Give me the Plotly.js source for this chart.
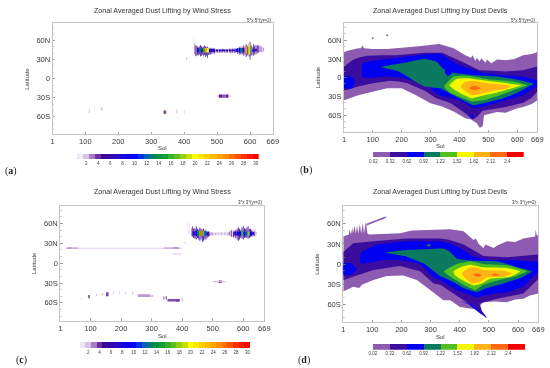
<!DOCTYPE html>
<html><head><meta charset="utf-8">
<script src="https://cdn.plot.ly/plotly-3.0.1.min.js"></script>
<style>html,body{margin:0;padding:0;background:#fff}#c{width:550px;height:368px;filter:blur(0.35px)}</style></head>
<body><div id="c"></div>
<script>
// tick labels
const solTicks=[1,100,200,300,400,500,600,669];
const latTicks=[-60,-30,0,30,60];
const latLabels=['60S','30S','0','30N','60N'];
const windLevels=[2,4,6,8,10,12,14,16,18,20,22,24,26,28,30];
const devilLabels=['0.02','0.32','0.62','0.92','1.22','1.52','1.82','2.12','2.4'];
const devilColors=['#ffffff','#8d5bb0','#3b0d9e','#0000f0','#0b7a5e','#50bf20','#f6f600','#fdb414','#ff6a10','#f50000'];
const windStops=[[0,'#ffffff'],[1,'#f1e8f7'],[2,'#d8c0e6'],[3,'#a67ec8'],[4,'#6a2ea5'],[5,'#3c0a90'],[7,'#2a0ac4'],[10,'#0000ff'],[12,'#0060c0'],[13,'#008060'],[15,'#10a030'],[17,'#60c020'],[19,'#c8e000'],[20,'#ffff00'],[22,'#ffd000'],[25,'#ff9000'],[28,'#ff3000'],[30,'#ff0000']];

// panel (a) wind stress 5x5
const aHaloSol=[450,478,505,530,555,585,622];
const aHaloWidth=[40,22,30,22,30,32,42];
const aHaloLow=[38,40,41,41,41,38,41];
const aHaloHigh=[51,49,47,47,48,51,50];
const aHaloVal=[1.6,1.5,1.2,1.2,1.3,1.6,1.3];
const aStreakSol=[431,435,438,441,444,447,450,453,456,459,462,465,468,471,474,477,480,484,488,492,497,502,507,512,517,522,527,532,537,542,547,552,557,562,567,572,577,581,585,588,591,594,597,600,603,606,610,614,618,622,626,630,635,640];
const aStreakLow=[39,35,36,37,36,38,35,36,38,35,37,34,36,33,37,38,38,39,39,40,41,41,41,41,41,41,41,41,41,40,41,40,41,39,38,38,39,36,38,34,36,37,35,30,36,37,36,38,38,40,41,42,42,43];
const aStreakHigh=[55,53,52,50,49,50,53,51,49,50,52,50,49,50,48,47,47,47,47,47,46,46,46,46,47,46,46,46,47,46,47,47,47,48,50,49,49,52,49,54,52,50,55,58,52,50,54,52,53,53,52,52,50,48];
const aStreakVal=[3,4,4,5,4,5,6,5,5,4,6,5,5,6,5,4,5,5,4,5,4,5,5,5,5,4,5,5,4,5,5,4,5,5,6,5,5,6,5,6,6,5,6,6,6,5,5,5,5,5,4,4,3,3];
const aCoreSol=[442,448,454,460,466,472,478,484,490,500,510,520,530,540,550,560,568,574,580,588,597,603,610,618];
const aCoreWidth=[5,5,5,6,6,6,5,5,8,8,8,8,8,8,8,8,6,6,5,5,4,4,6,6];
const aCoreLow=[41,41,42,41,41,41,42,42,42,43,43,43,43,43,43,42,41,41,41,39,37,40,42,43];
const aCoreHigh=[48,48,47,48,48,48,47,47,47,46,46,46,46,46,46,47,48,48,48,50,54,52,47,47];
const aCoreVal=[9,13,7,16,24,20,10,8,7,6,7,6,7,6,7,8,10,13,8,24,20,17,8,6];
const aSpotSol=[408,430,112,114,128,150,340,344,378,400,510,520,530,503,538,430,434];
const aSpotWidth=[2,2,3,2,1.5,3,5,4,2,2,10,10,9,6,8,2,1.5];
const aSpotLow=[30,50,-54,-50,-49,-50,-55,-55,-55,-55,-30,-30,-30,-29,-29,57,54];
const aSpotHigh=[33,58,-49,-47,-45,-45,-50,-50,-49,-49,-25,-25,-25,-26,-26,65,60];
const aSpotVal=[3.5,1.5,2,2,1.5,2.5,4,3.5,2.5,2,4.5,3.5,4.5,2,2,1,2];

// panel (c) wind stress 3x3
const cHaloSol=[455,480,520,575,615];
const cHaloWidth=[50,24,70,40,55];
const cHaloLow=[39,41,42,40,40];
const cHaloHigh=[52,49,47,50,51];
const cHaloVal=[1.6,1.5,1.2,1.5,1.5];
const cStreakSol=[422,430,434,438,442,446,450,454,458,462,466,470,474,478,482,486,490,495,500,510,520,530,540,550,556,562,568,574,580,584,588,592,596,600,604,608,612,616,620,624,628,632,636,642];
const cStreakLow=[44,41,40,38,37,36,38,36,34,36,32,34,36,36,38,40,41,42,42,43,43,43,43,42,42,40,39,38,36,34,36,38,37,36,38,39,38,37,38,40,40,41,41,43];
const cStreakHigh=[50,53,56,53,52,56,52,50,54,52,50,52,49,49,48,48,47,47,46,46,46,46,46,47,48,50,48,50,52,54,52,50,54,56,53,52,54,56,52,52,50,48,48,47];
const cStreakVal=[2,3,4,5,5,5,6,6,6,6,6,6,6,5,5,5,4,3,3,3,2.5,3,3,3,4,4,5,5,5,5,5,5,6,6,6,5,5,5,5,5,4,4,4,3];
const cCoreSol=[438,446,452,458,464,470,476,483,574,582,590,597,604,611,618,625,632];
const cCoreWidth=[8,6,6,6,6,6,6,8,8,8,7,7,7,7,7,7,8];
const cCoreLow=[42,41,41,41,41,41,41,42,42,42,42,41,42,42,42,42,43];
const cCoreHigh=[48,49,49,49,49,49,49,47,48,48,48,49,47,48,48,48,47];
const cCoreVal=[7,10,13,17,26,17,12,7,7,8,10,16,10,12,18,10,7];
const cSpotSol=[208,45,30,365,380,384,410,95,120,140,155,175,195,215,238,275,300,340,348,372,385,400,525,515,535,30,70,418,424,408];
const cSpotWidth=[385,30,14,50,20,32,8,6,4,4,8,3,3,3,6,40,12,4,4,40,12,3,10,28,14,2,3,2,2,2];
const cSpotLow=[22,21.5,21.5,21.5,21.5,13,30,-53,-50,-49,-50,-47,-47,-48,-48,-51,-51,-55,-55,-58,-58,-58,-30,-29,-29,-57,-56,50,52,29];
const cSpotHigh=[23.5,24,24,24,24.5,15,32,-48,-47,-46,-44,-41,-42,-43,-43,-47,-48,-50,-50,-54,-54,-53,-26,-27,-27,-55,-53,62,60,33];
const cSpotVal=[1.6,2.2,2.6,2.2,2.6,1.5,1.2,3.5,2,2.2,3.8,1.5,1.5,1.5,1.5,2.6,2,3,3.5,3.6,3.8,2.6,4.2,2.2,2,1,1.5,1.2,1.5,1];

// panel (b) dust devils 5x5: contour band outlines (sol, latitude)
const bPurpleSol=[1,20,50,60,64,70,100,150,250,330,380,420,440,445,455,460,470,475,490,495,510,530,560,590,620,650,669,669,650,640,620,600,590,560,530,500,485,480,470,460,440,420,380,340,300,250,200,150,50,1];
const bPurpleLat=[41,44,47,47,52,47,46,46,50,54,47,36,32,36,27,32,26,31,24,29,23,29,28,30,36,38,41,-36,-42,-44,-47,-49,-51,-56,-55,-58,-60,-78,-80,-73,-67,-65,-54,-46,-41,-28,-17,-17,-28,-36];
const bIndigoSol=[1,15,30,50,80,130,180,230,280,340,370,395,420,445,470,515,560,620,650,669,669,650,620,590,560,480,460,445,420,370,320,280,250,220,190,160,130,100,50,25,1];
const bIndigoLat=[18,23,28,32,35,36,36,38,40,40,34,29,23,17,12,11,10,12,15,18,-22,-32,-40,-44,-47,-53,-63,-67,-57,-41,-33,-21,-15,-9,-6,-5,-7,-9,-14,-18,-21];
const bBlueSol=[62,66,100,150,200,250,290,330,365,400,425,450,480,515,550,620,669,669,645,620,585,550,515,480,450,425,400,365,330,290,250,200,150,100,66,62];
const bBlueLat=[18,24,27,30,33,36,38,39,30,20,16,12,8,6,4,2,-4,-14,-20,-28,-33,-38,-43,-47,-49,-43,-36,-32,-28,-14,-6,0,2,0,0,6];
const bBlueBlobSol=[1,25,40,30,1];
const bBlueBlobLat=[2,2,-6,-17,-17];
const bBlueTailSol=[434,445,452,442];
const bBlueTailLat=[-60,-59,-65,-65];
const bTealSol=[130,200,280,320,345,379,448,529,609,656,644,609,552,483,448,413,379,333,280,240,190];
const bTealLat=[17,23,30,26,14,8,4,2,-4,-10,-13,-22,-33,-41,-44,-36,-28,-17,-14,-4,10];
const bHoleSol=[350,365,375,360,350];
const bHoleLat=[14,13,7,3,8];
const bGreenSol=[347,379,425,506,586,635,598,540,483,442,402,367];
const bGreenLat=[-14,2,3,-3,-6,-12,-18,-28,-36,-38,-31,-24];
const bYellowSol=[365,390,425,494,581,615,581,529,477,442,408,379];
const bYellowLat=[-12,-2,-1,-5,-10,-12,-17,-24,-29,-33,-26,-18];
const bGoldSol=[404,419,448,494,575,569,517,473,442,419];
const bGoldLat=[-14,-7,-5,-9,-13,-17,-21,-26,-28,-21];
const bOrangeSol=[436,455,474,455,436];
const bOrangeLat=[-15,-13,-17,-20,-18];
const bSpotSol=[100,150];
const bSpotLat=[63,68];

// panel (d) dust devils 3x3
const dPurpleSol=[1,20,22,27,32,34,40,44,48,52,58,62,68,72,78,84,90,150,195,236,333,367,413,447,455,465,481,488,516,530,561,590,618,658,660,664,669,669,640,618,590,561,520,481,470,466,458,401,367,344,293,253,207,150,104,65,55,35,1];
const dPurpleLat=[41,44,52,44,55,45,57,45,58,45,60,45,61,45,63,45,44,45,46,50,51,52,49,36,38,30,24,29,24,28,34,33,38,41,51,42,44,-44,-47,-52,-53,-57,-56,-57,-62,-62,-68,-64,-54,-54,-37,-24,-17,-18,-24,-31,-36,-34,-41];
const dStreakSol=[80,105,125,145,150,140,120,100,80];
const dStreakLat=[60,64,67,71,70,67,64,61,57];
const dIndigoSol=[1,35,104,218,333,367,413,447,481,561,664,669,670,618,527,468,476,493,488,458,413,379,333,310,264,195,104,47,1];
const dIndigoLat=[18,31,34,38,38,36,29,21,12,10,13,14,-22,-44,-52,-59,-70,-80,-80,-66,-54,-44,-31,-29,-11,-3,-9,-17,-24];
const dBlueSol=[58,62,115,218,333,367,413,447,504,584,669,669,618,561,493,458,390,333,310,264,195,138,62,58];
const dBlueLat=[10,17,29,34,34,31,21,11,6,6,3,-11,-34,-42,-46,-50,-39,-24,-20,0,6,6,0,4];
const dBlueBlobSol=[1,30,47,30,1];
const dBlueBlobLat=[1,1,-8,-16,-16];
const dBlueTailSol=[401,440,470,484,470,430];
const dBlueTailLat=[-55,-60,-70,-78,-74,-60];
const dTealSol=[144,218,287,344,367,390,447,527,607,647,607,550,493,458,413,378,333,276,218];
const dTealLat=[17,21,22,23,18,8,5,4,-6,-11,-21,-29,-36,-42,-36,-27,-18,1,11];
const dTealBlobSol=[284,294,302,294];
const dTealBlobLat=[28,30,28,26];
const dGreenSol=[346,390,436,481,561,607,632,596,527,481,453,413,378];
const dGreenLat=[-11,0,4,0,-2,-7,-11,-18,-25,-31,-39,-31,-22];
const dYellowSol=[378,407,436,481,561,607,573,504,476,447,413,384];
const dYellowLat=[-11,-4,-1,-5,-6,-11,-19,-22,-29,-32,-25,-17];
const dGoldSol=[407,430,453,481,550,579,550,493,468,441,418];
const dGoldLat=[-14,-6,-5,-9,-10,-14,-19,-20,-27,-29,-21];
const dOrangeASol=[445,460,476,460];
const dOrangeALat=[-16,-14,-17,-19];
const dOrangeBSol=[507,522,536,522];
const dOrangeBLat=[-16,-14,-16,-18];

const W=550,H=368;
const panels=[
 {k:'',  l:52.7,r:272.8,t:23.3,b:134,  title:'Zonal Averaged Dust Lifting by Wind Stress',res:'5°x 5°(yr=2)',tag:'a',tx:11,ty:171,titleY:11,cl:71,cr:258.7,ct:154,cb:159,solY:148},
 {k:'2', l:344,r:537.3,t:23.3,b:132,  title:'Zonal Averaged Dust Lifting by Dust Devils',res:'5°x 5°(yr=2)',tag:'b',tx:306,ty:170,titleY:11,cl:356.7,cr:524,ct:152,cb:157.3,solY:146},
 {k:'3', l:60.3,r:264.3,t:205.7,b:320.7,title:'Zonal Averaged Dust Lifting by Wind Stress',res:'3°x 3°(yr=2)',tag:'c',tx:21,ty:360,titleY:192,cl:74,cr:250.3,ct:342,cb:348,solY:336},
 {k:'4', l:343.3,r:538.3,t:205.7,b:322.3,title:'Zonal Averaged Dust Lifting by Dust Devils',res:'3°x 3°(yr=2)',tag:'d',tx:304,ty:360,titleY:192,cl:356,cr:525.3,ct:344,cb:349.7,solY:337}
];
const font='"Liberation Sans",Arial,sans-serif', ink='#3a3a3a';
const layout={width:W,height:H,margin:{l:0,r:0,t:0,b:0},paper_bgcolor:'#fff',plot_bgcolor:'#fff',showlegend:false,barmode:'overlay',font:{family:font,size:7,color:ink},annotations:[]};
const traces=[];

panels.forEach((p,i)=>{
  const xn='xaxis'+p.k,yn='yaxis'+p.k;
  layout[xn]={domain:[p.l/W,p.r/W],range:[1,669],anchor:'y'+p.k,tickmode:'array',tickvals:solTicks,ticktext:solTicks.map(String),ticks:'inside',ticklen:2.5,tickwidth:.6,tickcolor:'#777',showgrid:false,zeroline:false,showline:true,linecolor:'#c4c4c4',linewidth:1,mirror:true,tickfont:{size:7.5,color:ink,family:font}};
  layout[yn]={domain:[1-p.b/H,1-p.t/H],range:[-87,87],anchor:'x'+p.k,tickmode:'array',tickvals:latTicks,ticktext:latLabels,ticks:'inside',ticklen:2.5,tickwidth:.6,tickcolor:'#777',showgrid:false,zeroline:false,showline:true,linecolor:'#c4c4c4',linewidth:1,mirror:true,tickfont:{size:7.5,color:ink,family:font},minor:{dtick:10,ticks:'inside',ticklen:1.5,tickwidth:.5,tickcolor:'#999'}};
  layout.annotations.push({xref:'paper',yref:'paper',x:(p.l+p.r)/2/W,y:1-p.titleY/H,text:p.title,showarrow:false,xanchor:'center',yanchor:'middle',font:{size:7.1,color:'#333',family:font}});
  layout.annotations.push({xref:'paper',yref:'paper',x:p.r/W,y:1-(p.t-3)/H,text:p.res,showarrow:false,xanchor:'right',yanchor:'middle',font:{size:4.5,color:'#333',family:font}});
  layout.annotations.push({xref:'paper',yref:'paper',x:p.tx/W,y:1-p.ty/H,text:'(<b>'+p.tag+'</b>)',showarrow:false,xanchor:'center',yanchor:'middle',font:{size:10,color:'#222',family:'"Liberation Serif",serif'}});
  layout.annotations.push({xref:'paper',yref:'paper',x:(p.l+p.r)/2/W,y:1-p.solY/H,text:'Sol',showarrow:false,xanchor:'center',yanchor:'middle',font:{size:6,color:ink,family:font}});
  layout.annotations.push({xref:'paper',yref:'paper',x:(p.l-26.5)/W,y:1-(p.t+p.b)/2/H,text:'Latitude',textangle:-90,showarrow:false,xanchor:'center',yanchor:'middle',font:{size:6,color:ink,family:font}});

  // colour bar axes
  const cx='xaxis'+(5+i),cy='yaxis'+(5+i),cid=String(5+i);
  const wind=(i%2===0);
  layout[cy]={domain:[1-p.cb/H,1-p.ct/H],anchor:'x'+cid,range:[-.5,.5],showticklabels:false,ticks:'',showgrid:false,zeroline:false,showline:false};
  if(wind){
    layout[cx]={domain:[p.cl/W,p.cr/W],anchor:'y'+cid,range:[-.5,30.5],tickmode:'array',tickvals:windLevels,ticktext:windLevels.map(String),ticks:'',showgrid:false,zeroline:false,showline:false,tickfont:{size:4.5,color:ink,family:font}};
    const xs=[];for(let v=0;v<=30;v++)xs.push(v);
    traces.push({type:'heatmap',x:xs,y:[0],z:[xs],zmin:0,zmax:30,colorscale:windStops.map(s=>[s[0]/30,s[1]]),showscale:false,xaxis:'x'+cid,yaxis:'y'+cid,hoverinfo:'skip'});
  }else{
    layout[cx]={domain:[p.cl/W,p.cr/W],anchor:'y'+cid,range:[-.5,9.5],tickmode:'array',tickvals:devilLabels.map((_,j)=>j+.5),ticktext:devilLabels,ticks:'',showgrid:false,zeroline:false,showline:false,tickfont:{size:4.5,color:ink,family:font}};
    const xs=devilColors.map((_,j)=>j);
    traces.push({type:'heatmap',x:xs,y:[0],z:[xs],zmin:0,zmax:9,colorscale:devilColors.map((c,j)=>[j/9,c]),showscale:false,xaxis:'x'+cid,yaxis:'y'+cid,hoverinfo:'skip'});
  }
});

function band(sol,lat,color,ax,smooth){
  traces.push({type:'scatter',mode:'lines',x:sol.concat(sol[0]),y:lat.concat(lat[0]),fill:'toself',fillcolor:color,line:{width:0,color:color,shape:smooth?'spline':'linear',smoothing:.35},xaxis:'x'+ax,yaxis:'y'+ax,hoverinfo:'skip'});
}
function bars(sol,width,low,high,val,ax){
  traces.push({type:'bar',x:sol,width:width,base:low,y:high.map((h,i)=>h-low[i]),marker:{color:val,cmin:0,cmax:30,colorscale:windStops.map(s=>[s[0]/30,s[1]]),line:{width:0}},xaxis:'x'+ax,yaxis:'y'+ax,hoverinfo:'skip'});
}
const [P,I,B,T,G,Y,O,R]=[devilColors[1],devilColors[2],devilColors[3],devilColors[4],devilColors[5],devilColors[6],devilColors[7],devilColors[8]];

bars(aHaloSol,aHaloWidth,aHaloLow,aHaloHigh,aHaloVal,'');
bars(aStreakSol,aStreakSol.map(()=>2.2),aStreakLow,aStreakHigh,aStreakVal,'');
bars(aCoreSol,aCoreWidth,aCoreLow,aCoreHigh,aCoreVal,'');
bars(aSpotSol,aSpotWidth,aSpotLow,aSpotHigh,aSpotVal,'');
bars(cHaloSol,cHaloWidth,cHaloLow,cHaloHigh,cHaloVal,'3');
bars(cStreakSol,cStreakSol.map(()=>2.6),cStreakLow,cStreakHigh,cStreakVal,'3');
bars(cCoreSol,cCoreWidth,cCoreLow,cCoreHigh,cCoreVal,'3');
bars(cSpotSol,cSpotWidth,cSpotLow,cSpotHigh,cSpotVal,'3');

band(bPurpleSol,bPurpleLat,P,'2',false);
traces.push({type:'scatter',mode:'markers',x:bSpotSol,y:bSpotLat,marker:{size:2,color:P},xaxis:'x2',yaxis:'y2',hoverinfo:'skip'});
band(bIndigoSol,bIndigoLat,I,'2',false);
band(bBlueSol,bBlueLat,B,'2',false);
band(bBlueBlobSol,bBlueBlobLat,B,'2',true);
band(bBlueTailSol,bBlueTailLat,B,'2',false);
band(bTealSol,bTealLat,T,'2',true);
band(bHoleSol,bHoleLat,B,'2',true);
band(bGreenSol,bGreenLat,G,'2',true);
band(bYellowSol,bYellowLat,Y,'2',true);
band(bGoldSol,bGoldLat,O,'2',true);
band(bOrangeSol,bOrangeLat,R,'2',true);

band(dPurpleSol,dPurpleLat,P,'4',false);
band(dStreakSol,dStreakLat,P,'4',false);
band(dIndigoSol,dIndigoLat,I,'4',false);
band(dBlueSol,dBlueLat,B,'4',false);
band(dBlueBlobSol,dBlueBlobLat,B,'4',true);
band(dBlueTailSol,dBlueTailLat,B,'4',false);
band(dTealSol,dTealLat,T,'4',true);
band(dTealBlobSol,dTealBlobLat,T,'4',true);
band(dGreenSol,dGreenLat,G,'4',true);
band(dYellowSol,dYellowLat,Y,'4',true);
band(dGoldSol,dGoldLat,O,'4',true);
band(dOrangeASol,dOrangeALat,R,'4',true);
band(dOrangeBSol,dOrangeBLat,R,'4',true);

Plotly.newPlot('c',traces,layout,{displayModeBar:false,staticPlot:true});
</script></body></html>
